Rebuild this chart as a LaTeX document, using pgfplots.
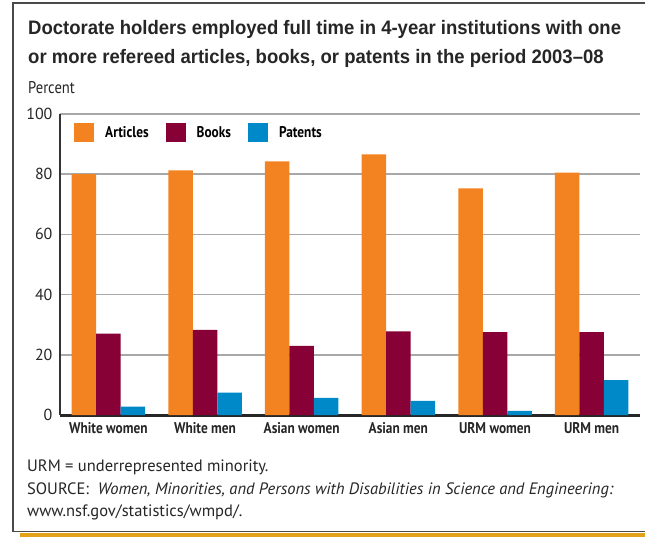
\documentclass[border=0pt]{standalone}
\usepackage{pgfplots}
\pgfplotsset{compat=1.18}
\usepackage{fontspec}
\setmainfont{PT Sans}
\newfontfamily\titlefont{Liberation Sans}[FakeStretch=0.95]
\newfontfamily\condfont{PT Sans}[FakeStretch=0.86]

\definecolor{articles}{HTML}{F38321}
\definecolor{books}{HTML}{870036}
\definecolor{patents}{HTML}{0089C9}
\definecolor{gold}{HTML}{E3A21A}
\definecolor{framegray}{HTML}{4A4A4A}
\definecolor{gridgray}{HTML}{A8A8A8}

\begin{document}
\begin{tikzpicture}[x=1pt,y=1pt]
\useasboundingbox (0,0) rectangle (645,-537);
\fill[white] (0,0) rectangle (645,-537);
% frame with gold strip
\fill[gold] (20,-533) rectangle (660,-540);
\draw[framegray, line width=1.3pt] (660,-3) -- (13,-3) -- (13,-531.5) -- (660,-531.5);

\node[anchor=base west, inner sep=0, font=\titlefont\bfseries\fontsize{19.5}{22}\selectfont, text=black!85] at (28,-35)
  {Doctorate holders employed full time in 4-year institutions with one};
\node[anchor=base west, inner sep=0, font=\titlefont\bfseries\fontsize{19.5}{22}\selectfont, text=black!85] at (28,-64)
  {or more refereed articles, books, or patents in the period 2003–08};
\node[anchor=base west, inner sep=0, font=\condfont\fontsize{17}{19}\selectfont, text=black!85] at (28,-94) {Percent};

\begin{axis}[
  at={(60pt,-415pt)}, anchor=south west,
  width=580pt, height=301pt, scale only axis,
  xmin=-0.5, xmax=5.5, ymin=0, ymax=100,
  ybar=0pt, bar width=24.5pt,
  xtick={0,1,2,3,4,5},
  xticklabels={White women, White men, Asian women, Asian men, URM women, URM men},
  ytick={0,20,40,60,80,100},
  /pgf/number format/assume math mode=true,
  axis x line*=bottom, axis y line*=left,
  x axis line style={line width=3pt, draw=black!85, -},
  y axis line style={line width=2pt, draw=black!80, -},
  ymajorgrids, grid style={gridgray, line width=1.5pt},
  major tick length=0pt,
  tick label style={text=black!85},
  yticklabel style={font=\fontsize{16}{18}\selectfont, xshift=-4pt},
  xticklabel style={font=\condfont\bfseries\fontsize{15.5}{17}\selectfont, yshift=-4pt},
  legend style={draw=none, fill=none, at={(0,1)}, anchor=north west, xshift=11pt, yshift=-7pt,
    legend columns=-1, font=\condfont\bfseries\fontsize{15.5}{17}\selectfont,
    /tikz/every odd column/.append style={column sep=9pt},
    /tikz/every even column/.append style={column sep=15pt}},
  legend image code/.code={\fill[#1] (0pt,-9.5pt) rectangle (20pt,9.5pt);},
]
\addplot[fill=articles, draw=none] coordinates {(0,80.0) (1,81.3) (2,84.3) (3,86.6) (4,75.3) (5,80.5)};
\addplot[fill=books, draw=none] coordinates {(0,27.0) (1,28.3) (2,23.0) (3,27.8) (4,27.5) (5,27.5)};
\addplot[fill=patents, draw=none] coordinates {(0,2.8) (1,7.4) (2,5.7) (3,4.7) (4,1.4) (5,11.6)};
\legend{Articles, Books, Patents}
\end{axis}

\node[anchor=base west, inner sep=0, font=\fontsize{16.5}{18}\selectfont, text=black!85] at (27,-471) {URM = underrepresented minority.};
\node[anchor=base west, inner sep=0, font=\fontsize{16.5}{18}\selectfont, text=black!85] at (27,-494)
  {SOURCE:\ \ \textit{Women, Minorities, and Persons with Disabilities in Science and Engineering:}};
\node[anchor=base west, inner sep=0, font=\fontsize{16.5}{18}\selectfont, text=black!85] at (27,-516) {www.nsf.gov/statistics/wmpd/.};
\end{tikzpicture}
\end{document}
